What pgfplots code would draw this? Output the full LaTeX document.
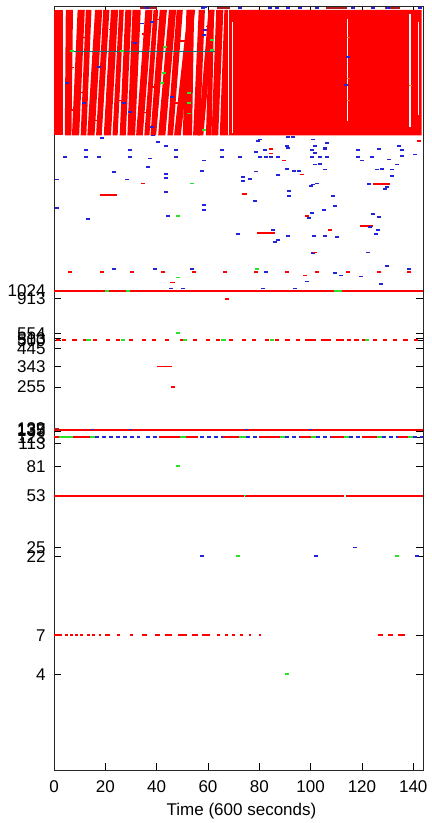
\documentclass[border=0pt]{standalone}
\usepackage{pgfplots}
\pgfplotsset{compat=1.18}
\usepackage{fontspec}
\setmainfont{Liberation Sans}
\definecolor{gred}{RGB}{255,0,0}
\definecolor{gblue}{RGB}{35,35,215}
\definecolor{ggreen}{RGB}{40,225,40}
\definecolor{gteal}{RGB}{20,110,110}
\definecolor{gdred}{RGB}{170,30,30}
\pgfplotsset{
  bpt/.style={only marks, mark=-, mark size=2pt, color=gblue, mark options={line width=1.8pt}},
  rpt/.style={only marks, mark=-, mark size=2pt, color=gred, mark options={line width=1.8pt}},
  gpt/.style={only marks, mark=-, mark size=2pt, color=ggreen, mark options={line width=1.8pt}},
  stripe/.style={fill=gred, draw=none},
}
\begin{document}
\begin{tikzpicture}
\begin{axis}[
  scale only axis, width=369pt, height=764pt,
  xmin=0, xmax=143.8, ymin=1, ymax=63000, ymode=log,
  xtick={0,20,...,140},
  ytick={4,7,22,25,53,81,113,123,135,137,139,255,343,445,500,513,554,913,1024},
  yticklabels={4,7,22,25,53,81,113,123,135,137,139,255,343,445,500,513,554,913,1024},
  yminorticks=false, xminorticks=false,
  tick align=inside, major tick length=7pt,
  tick style={black, line width=0.6pt},
  axis line style={black!85, line width=0.9pt},
  ticklabel style={font=\fontsize{17}{20}\selectfont},
  /pgf/number format/assume math mode=true,
  yticklabel style={xshift=-5pt},
  xticklabel style={yshift=-7pt},
  xlabel={Time (600 seconds)},
  xlabel style={font=\fontsize{17}{20}\selectfont, at={(axis description cs:0.5,0)}, anchor=base, yshift=-45pt, xshift=3pt},
  unbounded coords=jump,
]
% ---- dense ephemeral-port region: slanted stripes ----
\addplot[stripe] coordinates {(0,9700)(3.6,9700)(3.6,59500)(0,59500)};
\addplot[stripe] coordinates {(4.2,9700)(6.8,9700)(7.4,59500)(4.6,59500)};
\addplot[stripe] coordinates {(7.0,9700)(9.8,9700)(12.0,59500)(9.2,59500)};
\addplot[stripe] coordinates {(10.4,9700)(12.6,9700)(14.6,59500)(12.4,59500)};
\addplot[stripe] coordinates {(13.0,9700)(15.8,9700)(18.8,59500)(16.0,59500)};
\addplot[stripe] coordinates {(16.4,9700)(18.6,9700)(21.6,59500)(19.2,59500)};
\addplot[stripe] coordinates {(19.4,9700)(22.2,9700)(25.0,59500)(22.2,59500)};
\addplot[stripe] coordinates {(22.8,9700)(24.8,9700)(27.2,59500)(25.4,59500)};
\addplot[stripe] coordinates {(25.6,9700)(28.0,9700)(30.2,59500)(27.8,59500)};
\addplot[stripe] coordinates {(28.6,9700)(31.6,9700)(33.8,59500)(30.6,59500)};
\addplot[stripe] coordinates {(32.0,9700)(34.6,9700)(38.4,59500)(35.6,59500)};
\addplot[stripe] coordinates {(35.2,9700)(37.2,9700)(40.6,59500)(38.8,59500)};
\addplot[stripe] coordinates {(37.6,9700)(39.8,9700)(44.0,59500)(41.2,59500)};
\addplot[stripe] coordinates {(40.6,9700)(43.4,9700)(47.6,59500)(44.8,59500)};
\addplot[stripe] coordinates {(44.2,9700)(46.4,9700)(50.2,59500)(47.8,59500)};
\addplot[stripe] coordinates {(46.8,9700)(49.4,9700)(55.0,59500)(52.2,59500)};
\addplot[stripe] coordinates {(50.2,9700)(53.8,9700)(54.6,59500)(51.6,59500)};
\addplot[stripe] coordinates {(54.2,9700)(56.8,9700)(58.8,59500)(56.4,59500)};
\addplot[stripe] coordinates {(56.2,9700)(58.2,9700)(62.6,59500)(60.2,59500)};
\addplot[stripe] coordinates {(59.2,9700)(61.4,9700)(62.4,59500)(60.8,59500)};
\addplot[stripe] coordinates {(61.4,9700)(64.0,9700)(66.0,59500)(63.2,59500)};
\addplot[stripe] coordinates {(64.6,9700)(143.3,9700)(143.3,59500)(66.4,59500)};
% short red dashes inside the white gaps
\addplot[gred, only marks, mark=-, mark size=2.5pt, mark options={line width=1.2pt}] coordinates {
(6.6,14000)(6.9,26000)(10.2,18000)(12.4,40000)(15.8,12000)(16.4,30000)(22.4,21000)(22.4,45000)
(25.2,16000)(28.2,36000)(31.9,23000)(35.0,13500)(35.4,42000)(39.6,19500)(40.4,52000)(44.6,27000)
(47.4,15500)(50.1,38000)(53.3,24000)(56.6,33000)(59.4,20000)(60.3,47000)(63.3,14500)};
% thin gaps in the solid block
\addplot[white, line width=0.9pt] coordinates {(68.0,9700)(68.0,59500)};
\addplot[white, line width=0.7pt] coordinates {(69.6,10000)(69.6,50000)};
\addplot[white, line width=0.9pt] coordinates {(114.4,12000)(114.4,52000)};
\addplot[white, line width=1.4pt] coordinates {(138.8,11000)(138.8,56000)};
\addplot[white, line width=1.0pt] coordinates {(142.2,13000)(142.2,50000)};
% teal line across stripes
\addplot[gteal, line width=1.3pt] coordinates {(6.2,32700)(62.8,32700)};
% points inside dense region
\addplot[bpt] coordinates {(34.3,48900)(38.2,50200)(58.3,41400)(59,44500)(17.4,26200)(27.1,15400)(29.7,13650)(38.2,11000)(46,16950)(31.7,36700)(11.6,15400)(5.1,20600)(114.4,30000)(113.8,20000)};
\addplot[gpt] coordinates {(43.4,35000)(42.7,23800)(42.1,20600)(52.5,17800)(52.5,15400)(52.5,13300)(58.3,10450)(61.6,38500)(61.6,33300)(7,33000)(26.5,32700)};
\addplot[only marks, mark=-, mark size=1.5pt, color=orange, mark options={line width=1.5pt}] coordinates {(114.6,40000)(114.6,16000)(114.6,22000)(138.8,20000)};
% top band above block
\addplot[bpt] coordinates {(36.1,61000)(58,61000)(72.5,61000)(84,61000)(87,61000)(91,61000)(95.9,61000)(102.4,61000)(116.6,61000)(124.3,61000)(130.2,61000)(142.6,61000)(59,62000)};
\addplot[gdred, line width=1.6pt] coordinates {(33.5,61300)(40,61300)(40,nan)(63.5,61300)(68.6,61300)(68.6,nan)(106,61300)(114,61300)(114,nan)(129,61300)(135,61300)};
% ---- scattered ports 1024..10000 ----
\addplot[bpt] coordinates {
(18.58,9356)(40.66,8786)(38.71,9679)(43.52,8291)(4.29,7071)(12.47,7825)(12.47,7071)(17.67,7071)
(29.62,7825)(29.62,7071)(47.54,7825)(47.54,7071)(37.41,6934)(58.46,6737)(65.34,7825)(65.34,7071)
(72.49,7071)(79.63,8914)(80.28,9133)(78.59,7600)(82.23,7825)(80.28,7071)(82.62,7071)(84.57,7071)
(87.43,7071)(91.32,9491)(93.27,9491)(90.67,8291)(91.32,8093)(101.07,9133)(101.72,8291)(101.72,7529)
(105.61,8093)(105.61,7900)(106.26,8702)(100.42,7825)(100.42,7071)(103.66,7071)(106.26,7071)(101.72,6358)
(103.66,6420)(105.61,5913)(118.60,7825)(118.60,7071)(119.90,6737)(123.80,7071)(126.79,7977)(134.58,8291)
(135.49,7825)(135.49,7174)(130.68,6835)(133.54,6358)(140.69,7350)(23.51,5689)(36.50,6115)(43.52,5552)
(43.52,5215)(57.55,5771)(28.58,5116)(43.52,4258)(1.04,5116)(73.53,5291)(73.53,4994)(76.38,5166)
(78.59,5743)(87.43,5446)(90.67,5970)(93.53,5799)(95.61,5799)(100.02,4645)(101.07,4759)(102.62,4828)
(91.58,4320)(91.58,4018)(108.60,4018)(125.75,5913)(127.70,5970)(131.59,5913)(131.59,5368)(122.89,4805)
(129.00,4469)(129.65,4578)(78.46,3737)(58.46,3561)(58.46,3313)(44.56,3037)(13.38,2908)(1.30,3409)
(109.51,3475)(100.42,3157)(99.51,2922)(124.45,3111)(126.79,2964)(105.35,3281)(123.15,2576)(126.40,2455)
(125.49,2339)(85.48,2478)(71.58,2328)(91.32,2272)(101.46,2272)(105.61,2272)(110.42,2218)(87.43,2145)
(86.13,2063)(101.07,1767)(122.50,1784)(129.65,1471)(127.44,1128)(23.51,1409)(39.36,1409)(53.65,1409)
(82.62,1336)(109.51,1323)(111.72,1279)(119.51,1260)(138.48,1409)(98.47,1172)(45.47,1059)(50.40,1059)
(81.58,1059)(93.92,1059)};
\addplot[rpt] coordinates {
(142.38,8914)(84.57,7977)(84.57,7457)(89.76,6737)(34.55,4828)(96.52,5499)(98.47,3008)(107.56,2455)
(101.72,1784)(6.23,1336)(18.58,1336)(30.53,1336)(42.61,1336)(54.56,1336)(66.64,1336)(78.72,1336)
(90.67,1336)(97.82,1279)(102.37,1336)(114.70,1336)(126.79,1336)(138.48,1336)};
\addplot[gred, line width=1.8pt] coordinates {
(17.93,4115)(24.42,4115)(24.42,nan)(73.14,4176)(75.08,4176)(75.08,nan)(124.19,4805)(130.94,4805)(130.94,nan)
(119.25,2602)(124.45,2602)(124.45,nan)(79.24,2362)(86.13,2362)(86.13,nan)(45.21,1155)(47.16,1155)};
\addplot[gpt] coordinates {(53.65,4828)(48.45,3037)(78.98,1409)(48.45,1242)};
% ---- well-known ports ----
% 1024
\addplot[gred, line width=2pt] coordinates {(0,1024)(143.8,1024)};
\addplot[gpt] coordinates {(20.5,1024)(29,1024)(110,1024)(111.5,1024)};
% 913
\addplot[rpt] coordinates {(67.4,913)};
% 554
\addplot[gpt] coordinates {(48.3,554)};
% 500
\addplot[rpt, mark size=2.2pt] coordinates {(1.5,500)(4,500)(8,500)(12,500)(16,500)(21,500)(25,500)(30,500)(35,500)(39,500)(44,500)(50,500)(55,500)(60,500)(64,500)(69,500)(74,500)(78,500)(83,500)(87,500)(91,500)(95,500)(115,500)(121,500)(125,500)(129,500)(133,500)(137,500)(141,500)};
\addplot[gred, line width=1.8pt] coordinates {(98,500)(102,500)(102,nan)(104,500)(108,500)(108,nan)(110,500)(113,500)(113,nan)(117,500)(119,500)};
\addplot[gpt, mark size=2.2pt] coordinates {(13.5,500)(27,500)(51,500)(66,500)(85,500)(122,500)};
% 343, 255
\addplot[gred, line width=1.8pt] coordinates {(40.1,343)(46,343)};
\addplot[rpt] coordinates {(46.4,255)};
% 137
\addplot[gred, line width=2pt] coordinates {(0,137)(143.8,137)};
\addplot[gdred, line width=2pt] coordinates {(0,138)(2,138)};
\addplot[gblue, only marks, mark=-, mark size=1.5pt, mark options={line width=1.4pt}] coordinates {(15,138)(30,138)(75,138)(100,138)};
% 123
\addplot[gred, line width=2pt] coordinates {(0,123)(2,123)(2,nan)(7.4,123)(14,123)(14,nan)(41,123)(49,123)(49,nan)(51.5,123)(56,123)(56,nan)(66,123)(72,123)(72,nan)(80,123)(88,123)(88,nan)(96,123)(100,123)(100,nan)(108,123)(113,123)(113,nan)(120,123)(126,123)(126,nan)(134,123)(138,123)};
\addplot[ggreen, line width=2pt] coordinates {(2,123)(7.4,123)(7.4,nan)(14,123)(16,123)(16,nan)(49,123)(51.5,123)(51.5,nan)(72,123)(75,123)(75,nan)(88,123)(90,123)(90,nan)(100,123)(102,123)(102,nan)(113,123)(115,123)(115,nan)(126,123)(128,123)(128,nan)(138,123)(140,123)};
\addplot[gblue, line width=2pt, dash pattern=on 4pt off 3pt] coordinates {(16,123)(33.5,123)(33.5,nan)(36,123)(41,123)(41,nan)(57,123)(66,123)(66,nan)(75,123)(80,123)(80,nan)(90,123)(96,123)(96,nan)(102,123)(108,123)(108,nan)(115,123)(120,123)(120,nan)(128,123)(134,123)(134,nan)(140,123)(143.8,123)};
% 81
\addplot[gpt] coordinates {(48.3,81)};
% 53
\addplot[gred, line width=2pt] coordinates {(0,53)(74.2,53)(74.2,nan)(74.6,53)(113.2,53)(113.2,nan)(113.6,53)(143.8,53)};
\addplot[gpt, mark size=1pt] coordinates {(74.4,53)};
% 25, 22
\addplot[bpt] coordinates {(117.3,25)(57.5,22)(102,22)(141.3,22)};
\addplot[gpt] coordinates {(71.6,22)(133.5,22)};
% 7
\addplot[gred, line width=2pt] coordinates {(0,7)(3.0,7)(3.0,nan)(14.7,7)(16.0,7)(16.0,nan)(19.9,7)(21.8,7)(21.8,nan)(34.2,7)(36.1,7)(36.1,nan)(39.4,7)(41.3,7)(41.3,nan)(43.3,7)(45.9,7)(45.9,nan)(48.5,7)(51.7,7)(51.7,nan)(53.7,7)(56.2,7)(56.2,nan)(57.5,7)(60.8,7)(60.8,nan)(126.4,7)(128.3,7)(128.3,nan)(130.3,7)(132.3,7)(132.3,nan)(134.2,7)(136.8,7)};
\addplot[rpt, mark size=1.4pt, mark options={line width=2pt}] coordinates {(4.9,7)(6.9,7)(8.8,7)(10.8,7)(13.4,7)(17.9,7)(25.1,7)(30.3,7)(64.0,7)(67.3,7)(69.9,7)(73.1,7)(76.4,7)(80.3,7)};
% 4
\addplot[gpt] coordinates {(90.7,4)};
\end{axis}
\path ([xshift=-54pt,yshift=-53pt]current axis.south west) rectangle ([xshift=9pt,yshift=6pt]current axis.north east);
\end{tikzpicture}
\end{document}
